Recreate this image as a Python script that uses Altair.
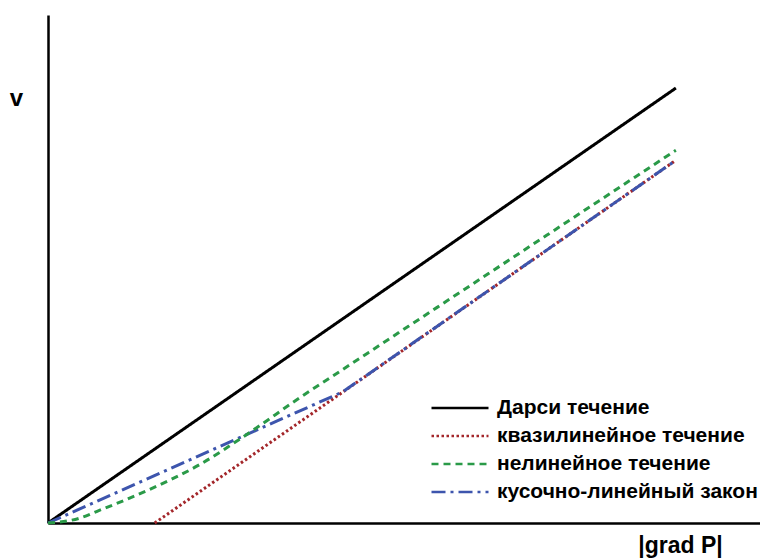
import altair as alt
import pandas as pd

series_names = ["Дарси течение", "квазилинейное течение", "нелинейное течение", "кусочно-линейный закон"]
colors = ["#000000", "#a3262a", "#2a9a48", "#3d55ad"]
dashes = [[1, 0], [2.5, 2.5], [7, 5], [14, 5, 3, 5]]

darcy_x = [0, 100]
darcy_y = [0, 100]
quasi_x = [17, 100]
quasi_y = [0, 83.4]
nonlin_x = [0, 5, 8, 16, 24, 32, 40, 48, 56, 64, 72, 80, 88, 100]
nonlin_y = [0, 1.1, 2.8, 7.6, 13.3, 20.7, 28.7, 36.3, 43.9, 51.5, 59.1, 66.7, 74.3, 85.7]
piece_x = [0, 47, 100]
piece_y = [0, 30.2, 83.4]

rows = []
for name, xs, ys in [(series_names[0], darcy_x, darcy_y),
                     (series_names[1], quasi_x, quasi_y),
                     (series_names[2], nonlin_x, nonlin_y),
                     (series_names[3], piece_x, piece_y)]:
    for i, (a, b) in enumerate(zip(xs, ys)):
        rows.append({"series": name, "x": a, "y": b, "i": i})
df = pd.DataFrame(rows)

xs = alt.Scale(domain=[0, 113.4], nice=False, zero=False)
ys = alt.Scale(domain=[0, 116.8], nice=False, zero=False)

color = alt.Color("series:N", scale=alt.Scale(domain=series_names, range=colors),
                  legend=alt.Legend(title=None, orient="none", legendX=382, legendY=379,
                                    symbolType="stroke", symbolSize=3249, symbolStrokeWidth=2.5,
                                    labelFontSize=21, labelFontWeight="bold", labelColor="black",
                                    labelFont="Liberation Sans", rowPadding=0, clipHeight=28,
                                    labelOffset=7, labelLimit=400))
dash = alt.StrokeDash("series:N", scale=alt.Scale(domain=series_names, range=dashes), legend=None)

xaxis = alt.Axis(domain=True, domainColor="black", domainWidth=2.5, ticks=False, labels=False,
                 grid=False, title="|grad P|", titleFontSize=23, titleFontWeight="bold",
                 titleFont="Liberation Sans", titleColor="black", titleX=632, titleY=22,
                 titleAlign="center", titleBaseline="middle")
yaxis = alt.Axis(domain=True, domainColor="black", domainWidth=2.5, ticks=False, labels=False,
                 grid=False, title="v", titleFontSize=24, titleFontWeight="bold",
                 titleFont="Liberation Sans", titleColor="black", titleAngle=0, titleX=-32,
                 titleY=83, titleAlign="center", titleBaseline="middle")

base = alt.Chart(df)
straight = base.transform_filter(alt.datum.series != series_names[2]).mark_line(
    strokeWidth=3, interpolate="linear").encode(
    x=alt.X("x:Q", scale=xs, axis=xaxis),
    y=alt.Y("y:Q", scale=ys, axis=yaxis),
    color=color, strokeDash=dash, order="i:Q")
curve = base.transform_filter(alt.datum.series == series_names[2]).mark_line(
    strokeWidth=3, interpolate="monotone").encode(
    x=alt.X("x:Q", scale=xs, axis=xaxis),
    y=alt.Y("y:Q", scale=ys, axis=yaxis),
    color=color, strokeDash=dash, order="i:Q")

chart = alt.layer(straight, curve).properties(
    width=712, height=508,
    autosize=alt.AutoSizeParams(type="none"),
    padding={"left": 40, "top": 7, "right": 0, "bottom": 36},
).configure_view(stroke=None)

chart.save("out.html", embed_options={"renderer": "svg", "actions": False})
